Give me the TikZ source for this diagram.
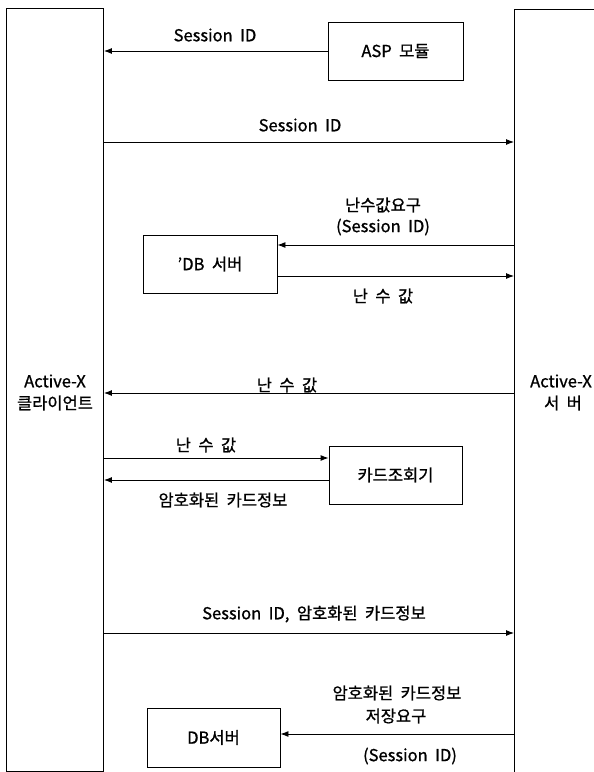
\documentclass[tikz,border=0pt]{standalone}
\usepackage{fontspec}
\setmainfont{Noto Sans CJK KR}[FakeBold=1]
\usetikzlibrary{arrows.meta}
\newcommand{\wsp}{\hspace{0.45em}}
\begin{document}
\begin{tikzpicture}[x=1pt,y=-1pt,
  box/.style={draw=black, line width=0.9pt, inner sep=0pt, font=\fontsize{16.5pt}{19pt}\selectfont},
  lbl/.style={inner sep=0pt, font=\fontsize{16.5pt}{19pt}\selectfont, text=black},
  arr/.style={draw=black, line width=0.9pt, -{Latex[length=8pt,width=6pt]}}]
\useasboundingbox (0,0) rectangle (594,772);
\clip (0,0) rectangle (594,772);
\fill[white] (0,0) rectangle (594,772);
% lifeline boxes
\node[box, minimum width=97pt, minimum height=763pt] (client) at (55,389.5) {};
\node[box, minimum width=200pt, minimum height=820pt, anchor=north west] (server) at (514,9) {};
\node[lbl, align=center] (clientlbl1) at (55,381) {Active-X};
\node[lbl, align=center] (clientlbl2) at (55,403) {클라이언트};
\node[lbl, align=center] (serverlbl1) at (561,381) {Active-X};
\node[lbl, align=center] (serverlbl2) at (563,403) {서\wsp 버};
% inner boxes
\node[box, minimum width=135pt, minimum height=58pt] (asp) at (395.5,51) {ASP\wsp 모듈};
\node[box, minimum width=134pt, minimum height=58pt] (db1) at (210,264) {'DB\wsp 서버};
\node[box, minimum width=133pt, minimum height=58pt] (card) at (395.5,475) {카드조회기};
\node[box, minimum width=133pt, minimum height=59pt] (db2) at (213.5,737.5) {DB서버};
% message levels
\coordinate (m2) at (0,142);
\coordinate (m3) at (0,245);
\coordinate (m4) at (0,276);
\coordinate (m5) at (0,393);
\coordinate (m6) at (0,458);
\coordinate (m7) at (0,480);
\coordinate (m8) at (0,633);
\coordinate (m9) at (0,734);
% connectors
\draw[arr] (asp.west) -- (asp.west -| client.east);
\draw[arr] (client.east |- m2) -- (server.west |- m2);
\draw[arr] (server.west |- m3) -- (db1.east |- m3);
\draw[arr] (db1.east |- m4) -- (server.west |- m4);
\draw[arr] (server.west |- m5) -- (client.east |- m5);
\draw[arr] (client.east |- m6) -- (card.west |- m6);
\draw[arr] (card.west |- m7) -- (client.east |- m7);
\draw[arr] (client.east |- m8) -- (server.west |- m8);
\draw[arr] (server.west |- m9) -- (db2.east |- m9);
% labels
\node[lbl] (l1) at (215,35) {Session\wsp ID};
\node[lbl] (l2) at (300,125) {Session\wsp ID};
\node[lbl] (l3a) at (383,205) {난수값요구};
\node[lbl] (l3b) at (383,227) {(Session\wsp ID)};
\node[lbl] (l4) at (383,296) {난\wsp 수\wsp 값};
\node[lbl] (l5) at (287,385) {난\wsp 수\wsp 값};
\node[lbl] (l6) at (206,445) {난\wsp 수\wsp 값};
\node[lbl] (l7) at (223,500) {암호화된\wsp 카드정보};
\node[lbl] (l8) at (314,614) {Session\wsp ID,\wsp 암호화된\wsp 카드정보};
\node[lbl] (l9a) at (397,693) {암호화된\wsp 카드정보};
\node[lbl] (l9b) at (396,716) {저장요구};
\node[lbl] (l9c) at (410,756) {(Session\wsp ID)};
\end{tikzpicture}
\end{document}
